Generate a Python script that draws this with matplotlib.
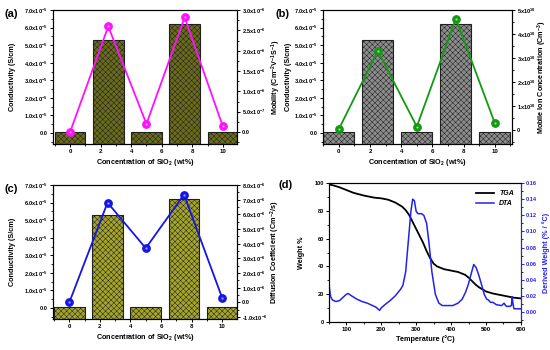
import numpy as np
import matplotlib
matplotlib.use("Agg")
import matplotlib.pyplot as plt
from matplotlib.ticker import FuncFormatter, AutoMinorLocator, MultipleLocator

plt.rcParams.update({
    "font.family": "Liberation Sans",
    "font.weight": "bold",
    "axes.labelweight": "bold",
    "mathtext.fontset": "custom",
    "mathtext.rm": "Liberation Sans:bold",
    "mathtext.bf": "Liberation Sans:bold",
    "mathtext.it": "Liberation Sans:bold:italic",
    "mathtext.default": "bf",
    "hatch.linewidth": 0.35,
    "xtick.labelsize": 4.4,
    "ytick.labelsize": 4.1,
    "axes.labelsize": 5.2,
    "axes.linewidth": 0.8,
})

# ---- data ----
sio2 = [0, 2.5, 5, 7.5, 10]
conductivity = [0.05e-5, 5.3e-5, 0.08e-5, 6.22e-5, 0.05e-5]
mobility = [0.0, 2.6e-6, 0.2e-6, 2.82e-6, 0.14e-6]
ion_conc = [0.03e10, 3.3e10, 0.14e10, 4.64e10, 0.28e10]
diffusion = [0.0, 6.81e-6, 3.7e-6, 7.36e-6, 0.3e-6]

temp = [50, 60, 80, 100, 120, 150, 180, 200, 220, 240, 260, 270, 280, 290,
        300, 310, 320, 330, 340, 350, 360, 380, 400, 420, 440, 450, 460, 470,
        480, 500, 520, 550, 580, 600]
tga = [99, 98.5, 97, 95, 93, 91, 89.5, 89, 88, 86, 83, 80.5, 77, 72,
       67, 62, 57, 51, 46, 42, 40, 38, 37, 36, 34, 32, 29.5, 27,
       25, 22, 20.5, 19, 17.5, 17]
dta_t = [50, 52, 55, 60, 70, 80, 90, 100, 105, 115, 130, 145, 160, 175, 185,
         195, 200, 210, 225, 240, 255, 262, 270, 278, 285, 290, 295, 300, 305,
         315, 322, 330, 337, 345, 355, 365, 375, 390, 405, 420, 432, 442, 450,
         458, 465, 472, 480, 488, 495, 502, 507, 513, 520, 530, 545, 552, 556,
         560, 568, 573, 575, 577, 580, 590, 600]
dta = [0.036, 0.028, 0.019, 0.015, 0.013, 0.014, 0.018, 0.022, 0.023, 0.020,
       0.016, 0.013, 0.011, 0.008, 0.006, 0.002, 0.005, 0.009, 0.014, 0.020,
       0.028, 0.033, 0.05, 0.09, 0.125, 0.14, 0.138, 0.125, 0.122, 0.122,
       0.12, 0.11, 0.085, 0.05, 0.022, 0.011, 0.008, 0.008, 0.008, 0.011,
       0.016, 0.025, 0.035, 0.048, 0.059, 0.055, 0.045, 0.033, 0.022, 0.016,
       0.015, 0.012, 0.012, 0.009, 0.008, 0.011, 0.008, 0.007, 0.007, 0.008,
       0.019, 0.012, 0.004, 0.004, 0.004]

COND_MIN = -0.62e-5


def sci_fmt(decimals=1):
    def f(v, pos):
        if abs(v) < 1e-30:
            return "0" if decimals == 0 else "0." + "0" * decimals
        e = int(np.floor(np.log10(abs(v)) + 1e-9))
        m = v / 10 ** e
        return f"{m:.{decimals}f}x10$^{{{e}}}$"
    return FuncFormatter(f)


def bar_panel(rect, label, bar_color, yvals, rlabel, rcolor, rlim, rstep,
              rdec, xlim, lx, rx):
    ax = fig.add_axes(rect)
    # origin-style bars grow from the bottom of the axis
    heights = [c - COND_MIN for c in conductivity]
    ax.bar(sio2, heights, bottom=COND_MIN, width=2, color=bar_color,
           edgecolor="#202020", linewidth=0.8, hatch="xxxxxx", zorder=2)
    ax.set_xlim(*xlim)
    ax.set_ylim(COND_MIN, 7.0e-5)
    ax.yaxis.set_major_locator(MultipleLocator(1e-5))
    ax.yaxis.set_major_formatter(sci_fmt(1))
    ax.yaxis.set_minor_locator(AutoMinorLocator(2))
    ax.xaxis.set_major_locator(MultipleLocator(2))
    ax.xaxis.set_minor_locator(AutoMinorLocator(2))
    ax.set_ylabel("Conductivity (S/cm)")
    ax.yaxis.set_label_coords(lx, 0.5)
    ax.set_xlabel("Concentration of SiO$_2$ (wt%)", labelpad=2)
    ax.tick_params(length=2.5, width=0.7, pad=1.2)
    ax.tick_params(which="minor", length=1.5, width=0.6)
    ax2 = ax.twinx()
    ax2.plot(sio2, yvals, color=rcolor, lw=1.3, marker="o", ms=5.3,
             mfc=rcolor, mec=rcolor, zorder=3)
    ax2.plot(sio2, yvals, ls="none", marker="o", ms=1.6, mfc="white",
             mec="none", alpha=0.6, zorder=4)
    ax2.set_ylim(*rlim)
    ax2.yaxis.set_major_locator(MultipleLocator(rstep))
    ax2.yaxis.set_major_formatter(sci_fmt(rdec))
    ax2.yaxis.set_minor_locator(AutoMinorLocator(2))
    ax2.set_ylabel(rlabel)
    ax2.yaxis.set_label_coords(rx, 0.5)
    ax2.tick_params(length=2.5, width=0.7, pad=1.2)
    ax2.tick_params(which="minor", length=1.5, width=0.6)
    fig.text(rect[0] - 0.087, rect[1] + rect[3] - 0.01, label, fontsize=8,
             fontweight="bold", va="center")
    return ax


fig = plt.figure(figsize=(5.5, 3.5), dpi=100)

bar_panel([0.096, 0.589, 0.335, 0.382], "(a)", "#6b6b1c", mobility,
          "Mobility (Cm$^{-2}$V$^{-1}$S$^{-1}$)", "#ff10ff",
          (-0.29e-6, 3.0e-6), 0.5e-6, 1, (-1.13, 10.93), -0.20, 1.175)
bar_panel([0.587, 0.589, 0.344, 0.382], "(b)", "#8c8c8c", ion_conc,
          "Mobile Ion Concentration (Cm$^{-3}$)", "#139a13",
          (-0.58e10, 5.0e10), 1e10, 0, (-1.02, 11.1), -0.165, 1.125)
bar_panel([0.096, 0.089, 0.335, 0.382], "(c)", "#a5a52a", diffusion,
          "Diffusion Coefficient (Cm$^{-2}$/s)", "#1515e6",
          (-1.12e-6, 8.0e-6), 1e-6, 1, (-1.08, 10.97), -0.20, 1.17)

# ---- (d) TGA / DTA ----
axd = fig.add_axes([0.598, 0.080, 0.349, 0.397])
l1, = axd.plot(temp, tga, color="black", lw=1.3, label="TGA")
axd.set_xlim(50, 600)
axd.set_ylim(0, 100)
axd.xaxis.set_major_locator(MultipleLocator(100))
axd.xaxis.set_minor_locator(AutoMinorLocator(2))
axd.yaxis.set_major_locator(MultipleLocator(20))
axd.yaxis.set_minor_locator(AutoMinorLocator(2))
axd.set_xlabel("Temperature (°C)", labelpad=2)
axd.set_ylabel("Weight %")
axd.yaxis.set_label_coords(-0.125, 0.5)
axd.tick_params(length=2.5, width=0.7, pad=1.2)
axd.tick_params(which="minor", length=1.5, width=0.6)
axd2 = axd.twinx()
l2, = axd2.plot(dta_t, dta, color="#2222ee", lw=1.1, label="DTA")
axd2.set_ylim(-0.0124, 0.16)
axd2.yaxis.set_major_locator(MultipleLocator(0.02))
axd2.yaxis.set_minor_locator(AutoMinorLocator(2))
axd2.yaxis.set_major_formatter(FuncFormatter(lambda v, p: f"{v:.2f}"))
axd2.set_ylabel("Derived Weight (% / °C)", color="#2222ee")
axd2.yaxis.set_label_coords(1.11, 0.5)
axd2.tick_params(axis="y", colors="#2222ee", length=2.5, width=0.7, pad=1.2)
axd2.tick_params(which="minor", length=1.5, width=0.6)
axd2.spines["right"].set_color("#2222ee")
leg = axd.legend(handles=[l1, l2], loc="upper right", frameon=False,
                 handlelength=2.5, borderaxespad=0.6,
                 prop={"style": "italic", "weight": "bold", "size": 5})
fig.text(0.506, 0.471, "(d)", fontsize=8, fontweight="bold", va="center")

fig.savefig("out.png", dpi=100)
